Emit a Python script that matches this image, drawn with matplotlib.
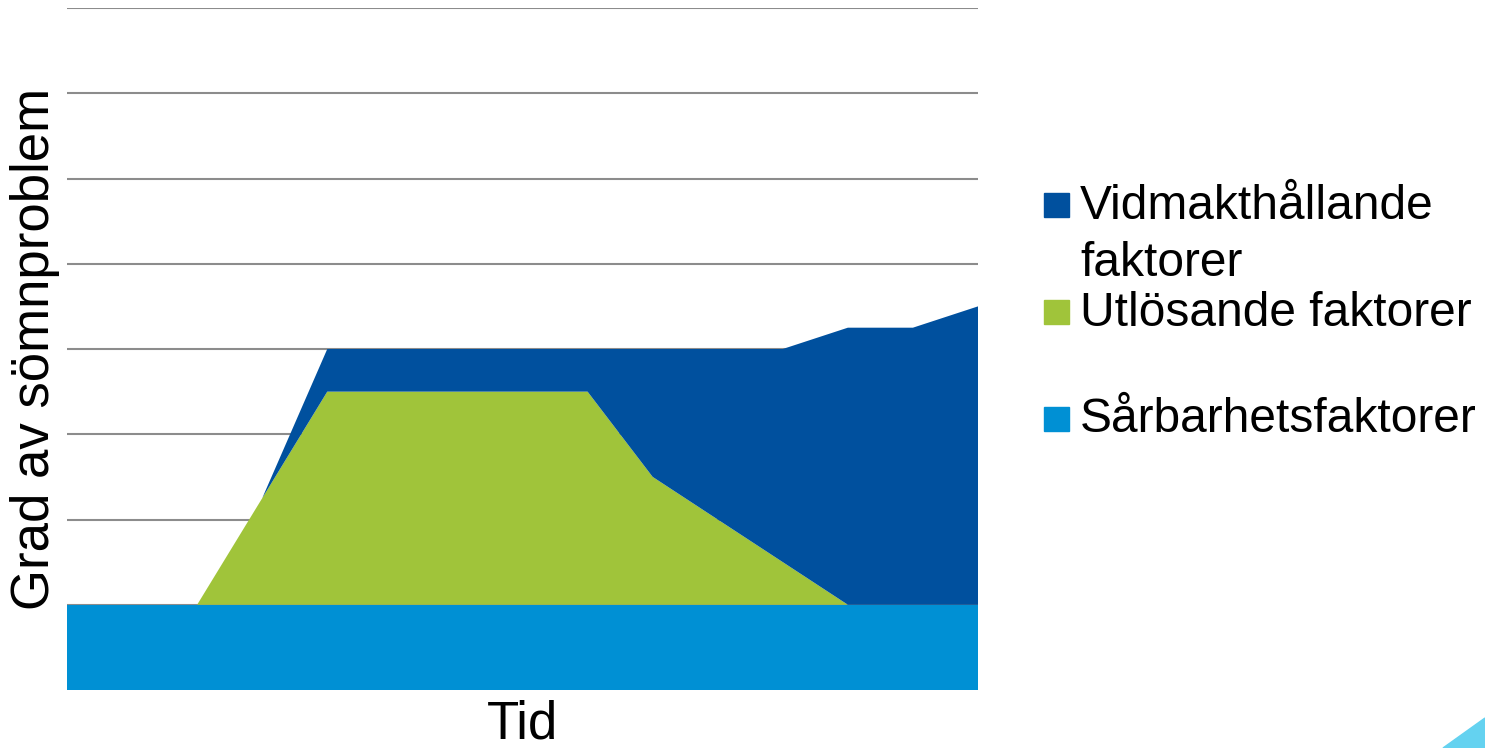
import matplotlib
matplotlib.use("Agg")
from matplotlib import pyplot as plt
from matplotlib.patches import Rectangle, Polygon
import numpy as np

plt.rcParams['font.family'] = ['Liberation Sans', 'DejaVu Sans']

# time steps along the x axis
time_steps = list(range(15))

# stacked layers (bottom to top)
sarbarhet = [1, 1, 1, 1, 1, 1, 1, 1, 1, 1, 1, 1, 1, 1, 1]
utlosande = [0, 0, 0, 1.25, 2.5, 2.5, 2.5, 2.5, 2.5, 1.5, 1.0, 0.5, 0, 0, 0]
vidmakt = [0, 0, 0, 0, 0.5, 0.5, 0.5, 0.5, 0.5, 1.5, 2.0, 2.5, 3.25, 3.25, 3.5]

labels = ["Sårbarhetsfaktorer", "Utlösande faktorer", "Vidmakthållande\nfaktorer"]
colors = ["#0090D4", "#A0C43A", "#00509E"]

axis_font = 38
legend_font = 34.5

fig = plt.figure(figsize=(14.85, 7.48), dpi=100)
ax = fig.add_axes([67 / 1485, 58 / 748, 911 / 1485, 682 / 748])

ax.stackplot(time_steps, sarbarhet, utlosande, vidmakt, colors=colors,
             linewidth=0, zorder=2)

ax.set_xlim(0, 14)
ax.set_ylim(0, 8)
ax.set_yticks(np.arange(0, 9, 1))
ax.set_xticks([])
ax.tick_params(axis='y', length=0, labelleft=False)
ax.grid(axis='y', color='#8C8C8C', linewidth=1.5, zorder=1)
ax.set_axisbelow(True)
for side in ax.spines.values():
    side.set_visible(False)

ax.set_ylabel("Grad av sömnproblem", fontsize=axis_font, labelpad=5)
ax.set_xlabel("Tid", fontsize=axis_font, labelpad=7)

# legend drawn by hand, top entry first
legend_rows = [(labels[2], colors[2], 205, 235),
               (labels[1], colors[1], 312, 313),
               (labels[0], colors[0], 419, 420)]
H = 748.0
for text, color, marker_y, text_y in legend_rows:
    fig.patches.append(Rectangle((1044 / 1485, 1 - (marker_y + 12) / H),
                                 25 / 1485, 24 / H, color=color,
                                 transform=fig.transFigure, figure=fig))
    fig.text(1080 / 1485, 1 - text_y / H, text, fontsize=legend_font,
             va='center', ha='left', linespacing=1.35)

# corner decoration
fig.patches.append(Polygon([(1443 / 1485, 0), (1, 30 / H), (1, 0)],
                           closed=True, color="#64D2F0",
                           transform=fig.transFigure, figure=fig))

plt.savefig("out.png", dpi=100)
